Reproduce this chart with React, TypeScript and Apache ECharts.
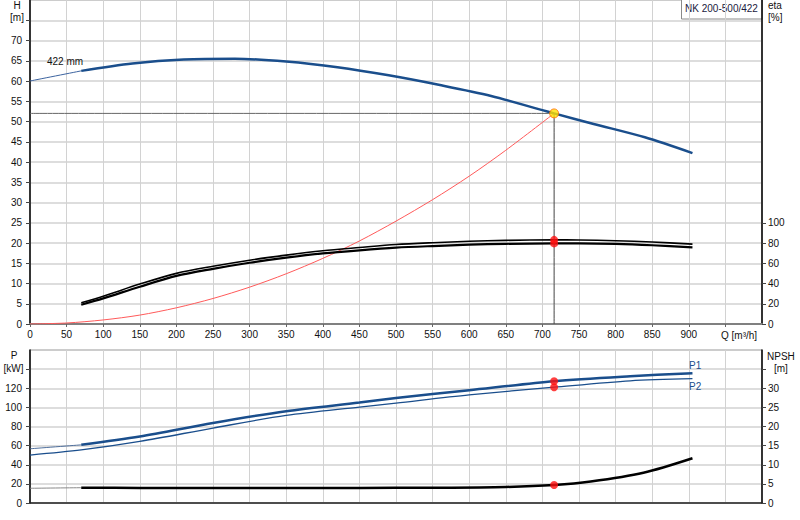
import { useEffect, useRef } from "react";
import * as echarts from "echarts";

const FONT = '"Liberation Sans", Arial, sans-serif';
const TEXT = "#111111";
const BLUE = "#1a4e8c";
const GRID_LINE = "#d2d2d2";

/** 流量轴：0..1000 m³/h，每 50 一格，950 处写单位。 */
const Q_MAX = 1000;
const Q_STEP = 50;
/** 曲线在此流量之前画细线（外推段）。 */
const THICK_FROM_Q = 70;

// 扬程曲线 H [m]
const qHead = [0, 70, 140, 210, 280, 350, 420, 490, 560, 630, 700, 716, 770, 840, 905];
const head = [60.0, 62.5, 64.3, 65.3, 65.5, 64.8, 63.4, 61.4, 59.0, 56.3, 52.8, 52.0, 49.4, 46.1, 42.2];

// 系统曲线（红）
const qSystem = [0, 50, 100, 150, 200, 250, 300, 350, 400, 450, 500, 550, 600, 650, 716];
const headSystem = [0, 0.25, 1.0, 2.2, 4.0, 6.3, 9.1, 12.4, 16.2, 20.5, 25.4, 30.7, 36.5, 42.9, 52.0];

// 效率 eta [%]（两条）
const qEta = [70, 100, 150, 200, 250, 300, 350, 400, 450, 500, 550, 600, 650, 716, 750, 800, 850, 905];
const etaUpper = [21, 27.5, 39.4, 50, 57, 63, 68, 72.3, 75.5, 78.5, 80.3, 81.7, 82.6, 83.1, 83.0, 82.2, 81.0, 78.9];
const etaLower = [19, 25.3, 36.8, 47.5, 54.5, 60.5, 65.5, 69.7, 72.8, 75.4, 77.0, 78.3, 79.2, 79.6, 79.7, 79.2, 77.8, 75.6];

// 功率 P1 / P2 [kW]
const qPower = [0, 70, 150, 250, 350, 450, 500, 600, 716, 820, 905];
const powerP1 = [56.7, 60.8, 69.5, 83.7, 96.0, 105.0, 109.7, 118.0, 127.4, 132.6, 135.8];
const powerP2 = [50.1, 55.5, 64.4, 78.4, 91.6, 100.3, 104.5, 113.0, 121.1, 127.8, 130.0];

// NPSH [m]
const qNpsh = [0, 70, 150, 250, 350, 450, 550, 650, 716, 766, 838, 905];
const npsh = [3.85, 4.0, 3.95, 3.9, 3.95, 3.95, 4.0, 4.2, 4.7, 5.6, 7.9, 11.7];

// 工况点
const dutyQ = 716;
const dutyHead = 52.0;
const dutyEta = [83.1, 79.6];
const dutyPower = [127.4, 121.1];
const dutyNpsh = 4.7;

// 刻度
const qLabelValues = [0, 50, 100, 150, 200, 250, 300, 350, 400, 450, 500, 550, 600, 650, 700, 750, 800, 850, 900];
const qTickValues = [...qLabelValues, 950];
const headLabelValues = [0, 5, 10, 15, 20, 25, 30, 35, 40, 45, 50, 55, 60, 65, 70];
const headTickValues = [...headLabelValues, 75];
const etaLabelValues = [0, 20, 40, 60, 80, 100];
const powerLabelValues = [0, 20, 40, 60, 80, 100, 120];
const powerTickValues = [...powerLabelValues, 140];
const npshLabelValues = [0, 5, 10, 15, 20, 25, 30];
const npshTickValues = [...npshLabelValues, 35];

const TITLE = "NK 200-500/422";
const IMPELLER = "422 mm";
const Q_UNIT = "Q [m³/h]";

type Pt = [number, number];

function zip(q: number[], v: number[]): Pt[] {
  return q.map((x, i) => [x, v[i]]);
}

function thin(pts: Pt[]): Pt[] {
  return pts.filter(([q]) => q <= THICK_FROM_Q);
}

function thick(pts: Pt[]): Pt[] {
  return pts.filter(([q]) => q >= THICK_FROM_Q);
}

const labelStyle = { color: TEXT, fontSize: 10, fontFamily: FONT };

function curve(
  data: Pt[],
  xAxisIndex: number,
  yAxisIndex: number,
  color: string,
  width: number,
  z = 3,
) {
  return {
    type: "line",
    xAxisIndex,
    yAxisIndex,
    data,
    smooth: 0.3,
    symbol: "none",
    silent: true,
    z,
    lineStyle: { color, width },
  };
}

function dots(data: Pt[], xAxisIndex: number, yAxisIndex: number) {
  return {
    type: "scatter",
    xAxisIndex,
    yAxisIndex,
    data,
    symbolSize: 8,
    silent: true,
    z: 10,
    itemStyle: { color: "#ff1010" },
  };
}

function unitText(text: string, x: number, y: number, align: string, fill = TEXT) {
  return {
    type: "text",
    x,
    y,
    silent: true,
    z: 20,
    style: {
      text,
      fill,
      font: `10px ${FONT}`,
      align,
      verticalAlign: "middle",
    },
  };
}

function buildOption(): echarts.EChartsOption {
  const headPts = zip(qHead, head);
  const p1Pts = zip(qPower, powerP1);
  const npshPts = zip(qNpsh, npsh);

  const xBase = {
    type: "value",
    min: 0,
    max: Q_MAX,
    interval: Q_STEP,
    splitLine: { show: true, lineStyle: { color: GRID_LINE, width: 1 } },
  };

  return {
    animation: false,
    textStyle: { fontFamily: FONT },
    grid: [
      { left: 30, right: 38, top: 0, height: 324, show: true, borderColor: "#999", borderWidth: 1 },
      { left: 30, right: 38, top: 350, height: 153, show: true, borderColor: "#999", borderWidth: 1 },
    ],
    xAxis: [
      {
        ...xBase,
        gridIndex: 0,
        axisLine: { show: true, lineStyle: { color: "#808080", width: 2 } },
        axisTick: { show: true, length: 3, customValues: qTickValues, lineStyle: { color: "#666" } },
        axisLabel: { ...labelStyle, margin: 5, customValues: qLabelValues },
      },
      {
        ...xBase,
        gridIndex: 1,
        axisLine: { show: true, lineStyle: { color: "#222", width: 1.5 } },
        axisTick: { show: false },
        axisLabel: { show: false },
      },
    ],
    yAxis: [
      {
        type: "value",
        gridIndex: 0,
        position: "left",
        min: 0,
        max: 80,
        interval: 5,
        axisLine: { show: true, lineStyle: { color: "#000", width: 1.5 } },
        axisTick: { show: true, length: 4, customValues: headTickValues, lineStyle: { color: "#444" } },
        axisLabel: { ...labelStyle, margin: 8, customValues: headLabelValues },
        splitLine: { show: true, lineStyle: { color: GRID_LINE, width: 1.5 } },
      },
      {
        type: "value",
        gridIndex: 0,
        position: "right",
        min: 0,
        max: 320,
        interval: 20,
        axisLine: { show: true, lineStyle: { color: "#000", width: 1.5 } },
        axisTick: { show: true, length: 4, customValues: etaLabelValues, lineStyle: { color: "#444" } },
        axisLabel: { ...labelStyle, margin: 6, customValues: etaLabelValues },
        splitLine: { show: false },
      },
      {
        type: "value",
        gridIndex: 1,
        position: "left",
        min: 0,
        max: 160,
        interval: 20,
        axisLine: { show: true, lineStyle: { color: "#000", width: 1.5 } },
        axisTick: { show: true, length: 4, customValues: powerTickValues, lineStyle: { color: "#444" } },
        axisLabel: { ...labelStyle, margin: 8, customValues: powerLabelValues },
        splitLine: { show: true, lineStyle: { color: GRID_LINE, width: 1.5 } },
      },
      {
        type: "value",
        gridIndex: 1,
        position: "right",
        min: 0,
        max: 40,
        interval: 5,
        axisLine: { show: true, lineStyle: { color: "#000", width: 1.5 } },
        axisTick: { show: true, length: 4, customValues: npshTickValues, lineStyle: { color: "#444" } },
        axisLabel: { ...labelStyle, margin: 6, customValues: npshLabelValues },
        splitLine: { show: false },
      },
    ],
    graphic: [
      unitText("H", 17, 5, "center"),
      unitText("[m]", 17, 17, "center"),
      unitText("eta", 768, 5, "left"),
      unitText("[%]", 768, 17, "left"),
      unitText("P", 14, 355, "center"),
      unitText("[kW]", 13.5, 368, "center"),
      unitText("NPSH", 767, 356, "left"),
      unitText("[m]", 774, 368, "left"),
      unitText(Q_UNIT, 721, 335, "left"),
      unitText(IMPELLER, 47, 61, "left"),
      unitText("P1", 689, 365, "left", BLUE),
      unitText("P2", 689, 386, "left", BLUE),
      {
        type: "group",
        children: [
          {
            type: "rect",
            shape: { x: 681.5, y: -1, width: 80.5, height: 20 },
            style: { fill: "#fff", stroke: "#8a8a8a", lineWidth: 1 },
          },
          {
            type: "text",
            x: 721.5,
            y: 8,
            style: {
              text: TITLE,
              fill: "#1a1a40",
              font: `10px ${FONT}`,
              align: "center",
              verticalAlign: "middle",
            },
          },
        ],
      },
    ],
    series: [
      // 工况点引线
      curve([[0, dutyHead], [dutyQ, dutyHead]], 0, 0, "#666", 1, 1),
      curve([[dutyQ, 0], [dutyQ, dutyHead]], 0, 0, "#444", 1, 1),
      curve(zip(qSystem, headSystem), 0, 0, "#ff5a5a", 1, 2),
      curve(thin(headPts), 0, 0, "#3d64a0", 1),
      curve(thick(headPts), 0, 0, BLUE, 2.5),
      curve(zip(qEta, etaUpper), 0, 1, "#000", 1.6),
      curve(zip(qEta, etaLower), 0, 1, "#000", 2.2),
      {
        type: "scatter",
        xAxisIndex: 0,
        yAxisIndex: 0,
        data: [[dutyQ, dutyHead]],
        symbolSize: 9,
        silent: true,
        z: 11,
        itemStyle: { color: "#ffe000", borderColor: "#ff6a00", borderWidth: 1 },
      },
      dots(dutyEta.map((v) => [dutyQ, v] as Pt), 0, 1),
      // 下图：功率与 NPSH
      curve(thin(p1Pts), 1, 2, "#4f6f9c", 1),
      curve(thick(p1Pts), 1, 2, BLUE, 2.5),
      curve(zip(qPower, powerP2), 1, 2, BLUE, 1.3),
      curve(thin(npshPts), 1, 3, "#8a8a8a", 1),
      curve(thick(npshPts), 1, 3, "#000", 2.5),
      dots(dutyPower.map((v) => [dutyQ, v] as Pt), 1, 2),
      dots([[dutyQ, dutyNpsh]], 1, 3),
    ],
  } as echarts.EChartsOption;
}

export default function App() {
  const chartRef = useRef<HTMLDivElement | null>(null);

  useEffect(() => {
    const el = chartRef.current;
    if (!el) {
      return undefined;
    }
    const chart = echarts.init(el, undefined, { renderer: "svg" });
    chart.setOption(buildOption());
    return () => {
      chart.dispose();
    };
  }, []);

  return (
    <div
      ref={chartRef}
      style={{ position: "fixed", left: 0, top: 0, width: 800, height: 520, background: "#fff" }}
      role="img"
      aria-label="NK 200-500/422 pump curve"
    />
  );
}
